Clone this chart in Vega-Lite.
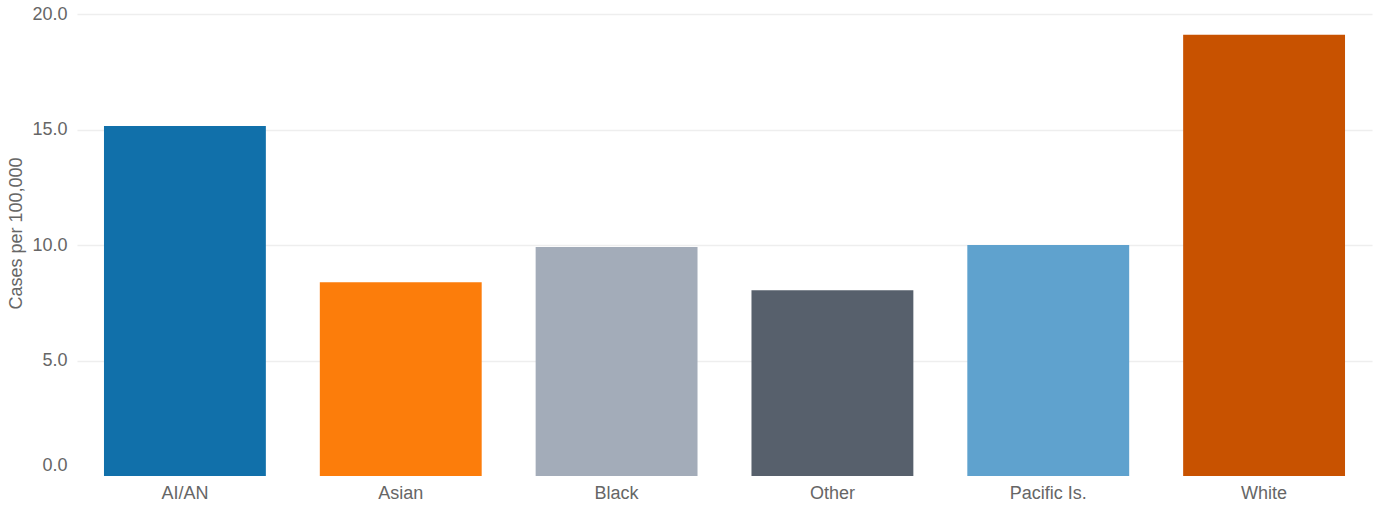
{
  "$schema": "https://vega.github.io/schema/vega-lite/v6.json",
  "autosize": {"type": "none"},
  "width": 1295,
  "height": 462,
  "padding": {"left": 77, "top": 14, "right": 7, "bottom": 29},
  "background": "white",
  "config": {"view": {"stroke": null}, "font": "Liberation Sans"},
  "data": {"values": [
    {"group": "AI/AN", "rate": 15.15},
    {"group": "Asian", "rate": 8.39},
    {"group": "Black", "rate": 9.91},
    {"group": "Other", "rate": 8.04},
    {"group": "Pacific Is.", "rate": 10.0},
    {"group": "White", "rate": 19.1}
  ]},
  "mark": {"type": "bar"},
  "encoding": {
    "x": {
      "field": "group", "type": "nominal", "sort": null,
      "scale": {"paddingInner": 0.25, "paddingOuter": 0.125},
      "axis": {"title": null, "labelAngle": 0, "ticks": false, "domain": false, "grid": false,
        "labelFontSize": 18, "labelColor": "#666666", "labelPadding": 8, "labelFont": "Liberation Sans"}
    },
    "y": {
      "field": "rate", "type": "quantitative",
      "scale": {"domain": [0, 20], "nice": false},
      "axis": {"title": "Cases per 100,000", "values": [0, 5, 10, 15, 20], "format": ".1f",
        "ticks": false, "domain": false,
        "gridColor": "#eeeeee", "gridWidth": 1.5,
        "gridOpacity": {"condition": {"test": "datum.value == 0", "value": 0}, "value": 1},
        "labelOffset": {"condition": {"test": "datum.value == 0", "value": -11}, "value": 0},
        "labelFontSize": 18, "labelColor": "#666666", "labelPadding": 10, "labelFont": "Liberation Sans",
        "titleFontSize": 18, "titleFontWeight": "normal", "titleColor": "#666666", "titlePadding": 6, "titleFont": "Liberation Sans",
        "titleY": 219}
    },
    "color": {
      "field": "group", "type": "nominal", "legend": null,
      "scale": {
        "domain": ["AI/AN", "Asian", "Black", "Other", "Pacific Is.", "White"],
        "range": ["#1170aa", "#fc7d0b", "#a3acb9", "#57606c", "#5fa2ce", "#c85200"]
      }
    }
  }
}
